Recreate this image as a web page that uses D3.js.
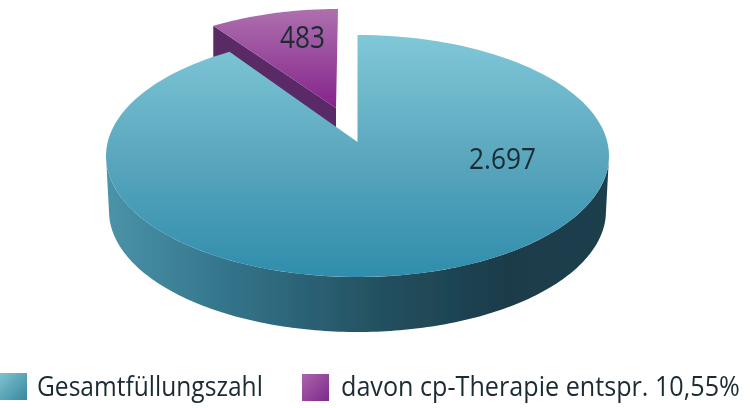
<!DOCTYPE html>
<html><head><meta charset="utf-8">
<script src="https://cdn.jsdelivr.net/npm/d3@7/dist/d3.min.js"></script>
<style>html,body{margin:0;background:#fff}svg{display:block}text{font-family:"Open Sans",sans-serif;fill:#1b2a33}</style>
</head><body><svg id="c" width="750" height="408"></svg>
<script>
// Data
const categories = ["Gesamtfüllungszahl", "davon cp-Therapie entspr. 10,55%"];
const sliceLabels = ["2.697", "483"];
const drawnShares = [91.5, 8.5]; // angular shares as drawn in the picture

const W = 750, H = 408;
const svg = d3.select("#c").attr("viewBox", [0, 0, W, H]);
const defs = svg.append("defs");
function grad(id, stops, x2, y2) {
  const g = defs.append("linearGradient").attr("id", id)
    .attr("x1", 0).attr("y1", 0).attr("x2", x2).attr("y2", y2);
  stops.forEach(([o, c]) => g.append("stop").attr("offset", o).attr("stop-color", c));
}
grad("blueTop", [[0, "#80c8d8"], [.5, "#5ba7be"], [1, "#2f8dac"]], 0, 1);
grad("blueSide", [[0, "#4a93a8"], [.25, "#33738a"], [.55, "#23505f"], [.8, "#1b3b49"], [1, "#1c3f4c"]], 1, 0);
grad("purpleTop", [[0, "#ad70ae"], [1, "#85238c"]], 0, 1);
grad("blueKey", [[0, "#7fc3d1"], [1, "#38879f"]], 1, 1);
grad("purpleKey", [[0, "#ab63ad"], [1, "#7e2a8b"]], 1, 1);
defs.append("filter").attr("id", "soft").attr("x", "-5%").attr("y", "-5%").attr("width", "110%").attr("height", "110%")
  .append("feGaussianBlur").attr("stdDeviation", 0.6);

const root = svg.append("g").attr("filter", "url(#soft)");

// layout
const main = { cx: 357.5, cy: 156, rx: 251.5, ry: 121, apexY: 142, depth: 55, rxBase: 248.5 };
const cut  = { cx: 338, cy: 130, rx: 245, ry: 121, apexX: 336, apexY: 108, depth: 20 };

const [mainArc, cutArc] = d3.pie().sort(null)(drawnShares);
const pt = (e, a) => [e.cx + e.rx * Math.sin(a), e.cy - e.ry * Math.cos(a)];
const arcPts = (e, a0, a1, n = 160) => d3.range(n + 1).map(i => pt(e, a0 + (a1 - a0) * i / n));
const line = d3.line();

// blue side wall
const base = { cx: main.cx, cy: main.cy + main.depth, rx: main.rxBase, ry: main.ry };
const wall = [
  ...arcPts(main, Math.PI / 2 + .05, 3 * Math.PI / 2 - .05),
  ...arcPts(base, 3 * Math.PI / 2 - .05, Math.PI / 2 + .05)
];
root.append("path").attr("d", line(wall) + "Z").attr("fill", "url(#blueSide)");

// purple slice side (its lower part runs under the blue top)
const cutStart = pt(cut, cutArc.startAngle);
root.append("path").attr("d", line([
    cutStart, [cut.apexX, cut.apexY], [cut.apexX, cut.apexY + cut.depth],
    [cutStart[0] + 14, cutStart[1] + 36], [cutStart[0], cutStart[1] + 36]
  ]) + "Z").attr("fill", "#5a2a66");

// purple slice top
root.append("path").attr("d", line([
    [cut.apexX, cut.apexY], ...arcPts(cut, cutArc.startAngle, cutArc.endAngle, 40)
  ]) + "Z").attr("fill", "url(#purpleTop)");

// blue top
root.append("path").attr("d", line([
    [main.cx, main.apexY], ...arcPts(main, mainArc.startAngle, mainArc.endAngle)
  ]) + "Z").attr("fill", "url(#blueTop)");

// condensed text: natural glyphs squeezed horizontally to the measured width
function fit(sel, x, y, width, anchorMiddle) {
  sel.each(function (d, i) {
    const t = d3.select(this);
    const k = width(i) / this.getComputedTextLength();
    const left = x(i) - (anchorMiddle ? width(i) / 2 : 0);
    t.attr("transform", `translate(${left},${y(i)}) scale(${k},1)`);
  });
}

// value labels
const sliceText = [
  { x: 502.5, y: 169, len: 67, size: 30 },
  { x: 302.5, y: 48, len: 45, size: 31 }
];
root.selectAll("text.v").data(sliceLabels).join("text").attr("class", "v")
  .attr("font-size", (d, i) => sliceText[i].size).text(d => d)
  .call(fit, i => sliceText[i].x, i => sliceText[i].y, i => sliceText[i].len, true);

// legend
const keys = [
  { x: 0, y: 373, tx: 37, tw: 226, fill: "url(#blueKey)" },
  { x: 302, y: 374, tx: 341, tw: 399, fill: "url(#purpleKey)" }
];
const lg = root.selectAll("g.k").data(categories).join("g").attr("class", "k");
lg.append("rect").attr("x", (d, i) => keys[i].x).attr("y", (d, i) => keys[i].y)
  .attr("width", 27).attr("height", 27).attr("fill", (d, i) => keys[i].fill);
lg.append("text").attr("font-size", 28).text(d => d)
  .call(fit, i => keys[i].tx, () => 396, i => keys[i].tw, false);
</script></body></html>
